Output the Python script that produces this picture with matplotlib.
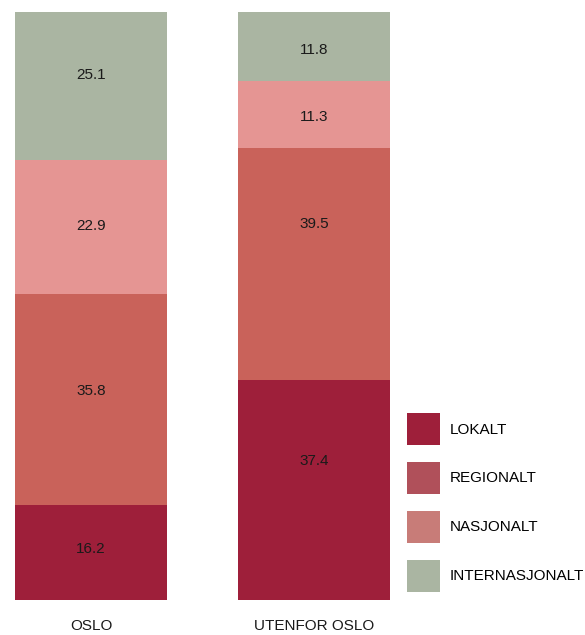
import matplotlib
matplotlib.use("Agg")
import matplotlib.pyplot as plt
from matplotlib.patches import Patch
import numpy as np

plt.rcParams['font.family'] = ['Liberation Sans', 'DejaVu Sans']

# data
groups = ["OSLO", "UTENFOR OSLO"]
categories = ["LOKALT", "REGIONALT", "NASJONALT", "INTERNASJONALT"]
lokalt = [16.2, 37.4]
regionalt = [35.8, 39.5]
nasjonalt = [22.9, 11.3]
internasjonalt = [25.1, 11.8]
series = [lokalt, regionalt, nasjonalt, internasjonalt]

# styles
bar_colors = ["#9e1f3a", "#c9625a", "#e59593", "#aab5a2"]
legend_colors = ["#9e1f3a", "#b0505a", "#c87c78", "#aab5a2"]
# where the label sits inside each segment (fraction of segment height)
label_frac = [[0.54, 0.63], [0.54, 0.67], [0.51, 0.47], [0.57, 0.45]]

W, H = 585, 635
fig = plt.figure(figsize=(W / 100, H / 100), dpi=100)
ax = fig.add_axes([0, 35 / H, 1, 588 / H])

x = np.arange(len(groups))
bottom = np.zeros(len(groups))
for i, vals in enumerate(series):
    vals = np.array(vals)
    ax.bar(x, vals, bottom=bottom, width=0.682, color=bar_colors[i], linewidth=0)
    for j in range(len(groups)):
        ax.text(x[j], bottom[j] + vals[j] * label_frac[i][j], f"{vals[j]:.1f}",
                ha="center", va="center", fontsize=11, color="#1a1a1a")
    bottom += vals

ax.set_xlim(-0.408, 2.215)
ax.set_ylim(0, 100)
ax.set_xticks(x)
ax.set_xticklabels(groups, fontsize=11, color="#1a1a1a")
ax.tick_params(axis="x", length=0, pad=14)
ax.set_yticks([])
for s in ax.spines.values():
    s.set_visible(False)

handles = [Patch(facecolor=c, edgecolor="none") for c in legend_colors]
fig.legend(handles, categories, loc="upper left",
           bbox_to_anchor=(407 / W, 1 - 413 / H), bbox_transform=fig.transFigure,
           frameon=False, fontsize=11, borderpad=0, borderaxespad=0,
           handlelength=2.16, handleheight=2.85, labelspacing=1.1,
           handletextpad=0.65)

fig.savefig("out.png", dpi=100)
